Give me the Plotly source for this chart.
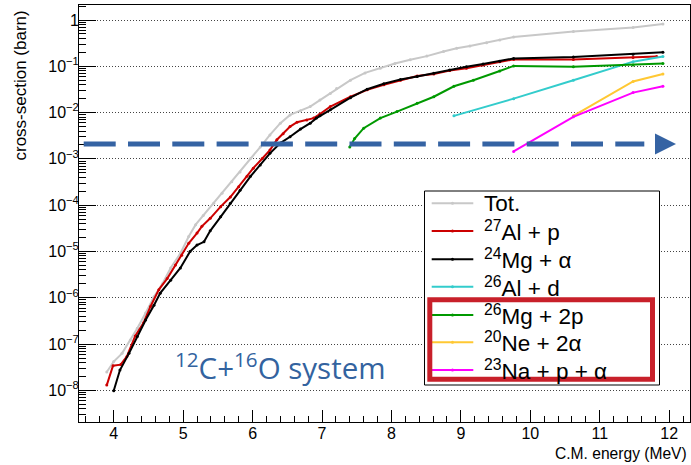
import plotly.graph_objects as go

# ---------------- data ----------------
tot_E = [3.90, 4.00, 4.12, 4.24, 4.34, 4.46, 4.58, 4.70, 4.82, 4.96, 5.08, 5.18, 5.29, 5.44, 5.56, 5.70,
         5.82, 5.97, 6.11, 6.25, 6.40, 6.54, 6.69, 6.83, 6.97, 7.12, 7.21, 7.41, 7.62, 7.84, 8.05, 8.27,
         8.51, 8.75, 8.94, 9.13, 9.37, 9.56, 9.76, 10.62, 11.48, 11.91]
tot_xs = [2.5e-8, 4.2e-8, 6.3e-8, 1.23e-7, 2.2e-7, 4.7e-7, 1.05e-6, 2.0e-6, 4.4e-6, 9.1e-6, 2.1e-5, 3.8e-5,
          6.0e-5, 1.1e-4, 1.8e-4, 3.2e-4, 5.2e-4, 1.02e-3, 1.8e-3, 3.3e-3, 5.9e-3, 8.9e-3, 1.1e-2, 1.35e-2,
          1.86e-2, 2.6e-2, 3.3e-2, 5.0e-2, 7.2e-2, 9.1e-2, 0.115, 0.138, 0.166, 0.209, 0.245, 0.275, 0.324,
          0.372, 0.427, 0.562, 0.692, 0.82]

alp_E = [3.90, 3.99, 4.10, 4.19, 4.31, 4.43, 4.53, 4.65, 4.77, 4.89, 4.98, 5.08, 5.20, 5.27, 5.39, 5.54,
         5.68, 5.80, 5.92, 6.01, 6.14, 6.25, 6.35, 6.44, 6.54, 6.64, 6.78, 6.88, 6.97, 7.12, 7.41, 7.65,
         7.89, 8.13, 8.37, 8.61, 8.84, 9.08, 9.32, 9.56, 9.76, 10.62, 11.48, 11.82]
alp_xs = [1.3e-8, 3.4e-8, 3.6e-8, 5.4e-8, 1.5e-7, 2.9e-7, 6.5e-7, 1.5e-6, 2.6e-6, 5.1e-6, 8.3e-6, 1.5e-5,
          2.5e-5, 3.5e-5, 5.2e-5, 9.3e-5, 1.5e-4, 2.5e-4, 4.2e-4, 6.3e-4, 1.02e-3, 1.55e-3, 2.6e-3, 3.5e-3,
          5.0e-3, 6.2e-3, 6.9e-3, 7.6e-3, 9.3e-3, 1.35e-2, 2.2e-2, 3.1e-2, 4.0e-2, 5.0e-2, 6.2e-2, 6.8e-2,
          8.1e-2, 9.1e-2, 0.107, 0.126, 0.141, 0.141, 0.155, 0.162]

mga_E = [4.00, 4.09, 4.22, 4.34, 4.46, 4.58, 4.67, 4.82, 4.96, 5.10, 5.20, 5.30, 5.39, 5.54, 5.68, 5.82,
         5.97, 6.11, 6.25, 6.40, 6.54, 6.69, 6.83, 6.92, 6.97, 7.12, 7.41, 7.65, 7.89, 8.13, 8.37, 8.61,
         8.84, 9.08, 9.32, 9.56, 9.76, 10.62, 11.48, 11.91]
mga_xs = [9.8e-9, 2.75e-8, 6.3e-8, 1.45e-7, 3.3e-7, 6.9e-7, 1.26e-6, 2.4e-6, 4.4e-6, 1.0e-5, 1.38e-5, 1.62e-5,
          2.8e-5, 5.6e-5, 1.1e-4, 2.1e-4, 4.2e-4, 7.4e-4, 1.32e-3, 2.2e-3, 3.0e-3, 4.4e-3, 5.9e-3, 7.6e-3,
          8.5e-3, 1.15e-2, 2.1e-2, 3.2e-2, 4.2e-2, 5.2e-2, 6.0e-2, 7.1e-2, 8.3e-2, 9.8e-2, 0.112, 0.129,
          0.148, 0.158, 0.182, 0.20]

ald_E = [8.90, 9.76, 10.62, 11.48, 11.91]
ald_xs = [8.5e-3, 2.0e-2, 5.0e-2, 0.126, 0.162]

mg2p_E = [7.40, 7.47, 7.60, 7.84, 8.08, 8.37, 8.61, 8.90, 9.18, 9.56, 9.76, 10.62, 11.48, 11.91]
mg2p_xs = [1.8e-3, 2.75e-3, 4.6e-3, 7.6e-3, 1.05e-2, 1.6e-2, 2.2e-2, 3.7e-2, 5.0e-2, 7.9e-2, 0.102, 0.098,
           0.107, 0.115]

ne2a_E = [10.62, 11.48, 11.91]
ne2a_xs = [8.5e-3, 4.7e-2, 6.8e-2]

napa_E = [9.76, 10.62, 11.48, 11.91]
napa_xs = [1.45e-3, 8.1e-3, 2.7e-2, 3.7e-2]

series_labels = ["Tot.", "<sup>27</sup>Al + p", "<sup>24</sup>Mg + α", "<sup>26</sup>Al + d",
                 "<sup>26</sup>Mg + 2p", "<sup>20</sup>Ne + 2α", "<sup>23</sup>Na + p + α"]

y_tick_exp = [-8, -7, -6, -5, -4, -3, -2, -1, 0]
x_ticks = [4, 5, 6, 7, 8, 9, 10, 11, 12]
threshold = 2.1e-3  # level of the dashed arrow (barn)

# ---------------- style ----------------
colors = ["#c8c8c8", "#cc0000", "#000000", "#33cccc", "#009900", "#ffc833", "#ff00ff"]
series = [(tot_E, tot_xs), (alp_E, alp_xs), (mga_E, mga_xs), (ald_E, ald_xs),
          (mg2p_E, mg2p_xs), (ne2a_E, ne2a_xs), (napa_E, napa_xs)]

W, H = 691, 465
L, R, T, B = 79, 1, 5, 43
PW, PH = W - L - R, H - T - B


def px(x):
    return (x - L) / PW


def py(y):
    return (H - B - y) / PH


fig = go.Figure()
for (e, s), c, name in zip(series, colors, series_labels):
    fig.add_trace(go.Scatter(x=e, y=s, mode="lines+markers", name=name, showlegend=False,
                             line=dict(color=c, width=2), marker=dict(color=c, size=3)))

tickfont = dict(family="Liberation Sans, Arial, sans-serif", size=16, color="#000")
ytext = ["1" if k == 0 else "10<sup>−%d</sup>" % (-k) for k in y_tick_exp]
minor_y = [m * 10.0 ** k for k in range(-9, 1) for m in range(2, 10)]

fig.update_layout(
    width=W, height=H, margin=dict(l=L, r=R, t=T, b=B),
    paper_bgcolor="white", plot_bgcolor="white",
    xaxis=dict(range=[3.5, 12.3], tickvals=x_ticks, ticks="inside", ticklen=12, tickwidth=1,
               tickcolor="#000", showgrid=False, zeroline=False, showline=True, linecolor="#000",
               linewidth=1, mirror=True, tickfont=tickfont, ticklabelstandoff=-3,
               minor=dict(dtick=0.2, tick0=0, ticks="inside", ticklen=6, tickcolor="#000", showgrid=False)),
    yaxis=dict(type="log", range=[-8.683, 0.324], tickvals=[10.0 ** k for k in y_tick_exp], ticktext=ytext,
               ticks="inside", ticklen=17, tickwidth=1, tickcolor="#000", showgrid=True,
               gridcolor="#444444", griddash="1px,2px", gridwidth=1, zeroline=False, showline=True,
               linecolor="#000", linewidth=1, mirror=True, tickfont=tickfont, ticklabelstandoff=-4,
               minor=dict(tickvals=minor_y, ticks="inside", ticklen=7, tickcolor="#000", showgrid=False)),
)

shapes = []
annotations = []

# axis titles
annotations.append(dict(text="cross-section (barn)", x=px(20), y=py(85.5), xref="paper", yref="paper",
                        textangle=-90, showarrow=False, xanchor="center", yanchor="middle",
                        font=dict(family="Liberation Sans, Arial, sans-serif", size=17, color="#000")))
annotations.append(dict(text="C.M. energy (MeV)", x=px(689), y=py(453), xref="paper", yref="paper",
                        showarrow=False, xanchor="right", yanchor="middle",
                        font=dict(family="Liberation Sans, Arial, sans-serif", size=15.6, color="#000")))

# system label
annotations.append(dict(text="<sup>12</sup>C+<sup>16</sup>O system", x=px(173), y=py(366), xref="paper",
                        yref="paper", showarrow=False, xanchor="left", yanchor="middle",
                        font=dict(family="Open Sans, sans-serif", size=29.5, color="#33639f")))

# legend box
shapes.append(dict(type="rect", xref="paper", yref="paper", x0=px(424.5), x1=px(659.5), y0=py(385), y1=py(191),
                   line=dict(color="#000", width=1), fillcolor="white", layer="above"))
row_y = [203.3, 231, 259.3, 286.7, 315, 342.3, 370]
for yy, c, name in zip(row_y, colors, series_labels):
    shapes.append(dict(type="line", xref="paper", yref="paper", x0=px(431.7), x1=px(473.3), y0=py(yy), y1=py(yy),
                       line=dict(color=c, width=2), layer="above"))
    shapes.append(dict(type="circle", xref="paper", yref="paper", x0=px(451), x1=px(454), y0=py(yy - 1.5),
                       y1=py(yy + 1.5), line=dict(color=c, width=0), fillcolor=c, layer="above"))
    annotations.append(dict(text=name, x=px(482), y=py(yy), xref="paper", yref="paper", showarrow=False,
                            xanchor="left", yanchor="middle",
                            font=dict(family="Liberation Sans, Arial, sans-serif", size=22.5, color="#000")))

# red highlight rectangle
shapes.append(dict(type="rect", xref="paper", yref="paper", x0=px(429.8), x1=px(652.5), y0=py(379.2), y1=py(299.8),
                   line=dict(color="#c8202a", width=5), fillcolor="rgba(0,0,0,0)", layer="above"))

# blue dashed arrow at threshold level
shapes.append(dict(type="line", xref="paper", yref="y", x0=px(83.7), x1=px(644.3), y0=threshold, y1=threshold,
                   line=dict(color="#3563a3", width=5, dash="32px,12.3px"), layer="above"))
y_arrow_px = 144
shapes.append(dict(type="path", xref="paper", yref="paper",
                   path="M %f,%f L %f,%f L %f,%f Z" % (px(655), py(y_arrow_px - 10.5), px(676), py(y_arrow_px),
                                                       px(655), py(y_arrow_px + 10.5)),
                   line=dict(color="#3563a3", width=0), fillcolor="#3563a3", layer="above"))

fig.update_layout(shapes=shapes, annotations=annotations)
fig.write_html("out.html")
